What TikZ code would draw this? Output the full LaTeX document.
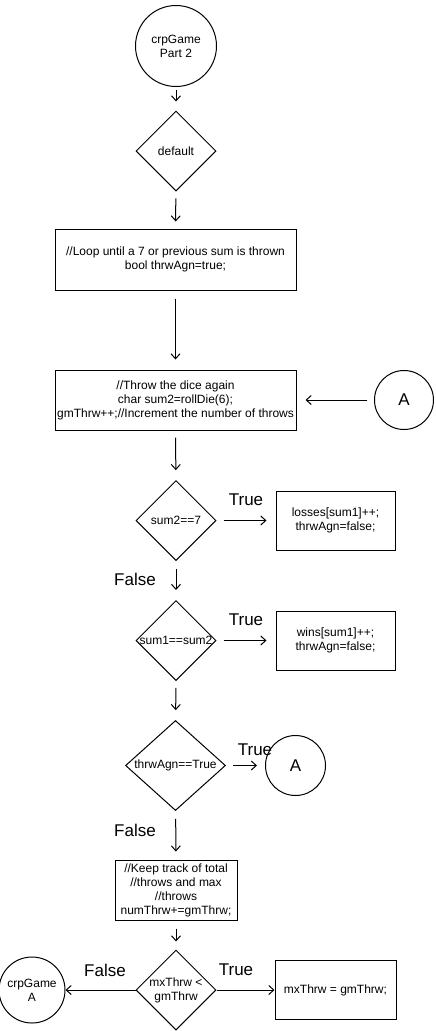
\documentclass[tikz,border=0pt]{standalone}
\usepackage{fontspec}
\setmainfont{Liberation Sans}
\usetikzlibrary{shapes.geometric,arrows.meta}
\begin{document}
\begin{tikzpicture}[x=1pt,y=-1pt,
  base/.style={draw=black, line width=1pt, inner sep=0pt, font=\fontsize{12}{14}\selectfont, align=center},
  box/.style={base, rectangle},
  circ/.style={base, circle},
  dia/.style={base, diamond},
  txt/.style={inner sep=0pt, font=\fontsize{12}{14}\selectfont, align=center},
  lbl/.style={inner sep=0pt, font=\fontsize{17}{20}\selectfont},
  bigtxt/.style={inner sep=0pt, font=\fontsize{17}{20}\selectfont},
  arr/.style={draw=black, line width=1pt, -{Straight Barb[length=5pt,width=9pt]}}
]
\useasboundingbox (0,0) rectangle (436,1031);

% nodes
\node[circ, minimum size=81pt] (start) at (176,46) {crpGame\\Part 2};
\node[dia, minimum width=80pt, minimum height=80pt] (d0) at (176,151) {};
\node[txt] (d0t) at (d0) {default};
\node[box, minimum width=241pt, minimum height=61pt] (r1) at (175.5,259.5)
  {//Loop until a 7 or previous sum is thrown\\bool thrwAgn=true;};
\node[box, minimum width=241pt, minimum height=60pt] (r2) at (175.5,400)
  {//Throw the dice again\\char sum2=rollDie(6);\\gmThrw++;//Increment the number of throws};
\node[circ, minimum size=59pt] (A1) at (404,400) {};
\node[bigtxt] (A1t) at (A1) {A};

\node[dia, minimum width=80pt, minimum height=80pt] (d1) at (176,520.5) {};
\node[txt] (d1t) at (d1) {sum2==7};
\node[box, minimum width=119pt, minimum height=59pt] (loss) at (335.5,520.5)
  {losses[sum1]++;\\thrwAgn=false;};

\node[dia, minimum width=80pt, minimum height=80pt] (d2) at (176,640.5) {};
\node[txt] (d2t) at (d2) {sum1==sum2};
\node[box, minimum width=119pt, minimum height=59pt] (wins) at (335.5,640.5)
  {wins[sum1]++;\\thrwAgn=false;};

\node[dia, minimum width=100pt, minimum height=90pt] (d3) at (175.5,765.5) {};
\node[txt] (d3t) at (d3) {thrwAgn==True};
\node[circ, minimum size=60pt] (A2) at (295.5,765.5) {};
\node[bigtxt] (A2t) at (A2) {A};

\node[box, minimum width=122pt, minimum height=60pt] (keep) at (176,890)
  {//Keep track of total\\//throws and max\\//throws\\numThrw+=gmThrw;};

\node[dia, minimum width=80pt, minimum height=80pt] (d4) at (176,990) {};
\node[txt] (d4t) at (d4) {mxThrw <\\gmThrw};
\node[circ, minimum size=66pt] (endc) at (32,990) {crpGame\\A};
\node[box, minimum width=121pt, minimum height=59pt] (mx) at (335.5,990)
  {mxThrw = gmThrw;};

% labels
\node[lbl] (t1) at (246,500) {True};
\node[lbl] (f1) at (135,579) {False};
\node[lbl] (t2) at (246,620) {True};
\node[lbl] (t3) at (255,750) {True};
\node[lbl] (f3) at (135,830) {False};
\node[lbl] (f4) at (105,970) {False};
\node[lbl] (t4) at (236,970) {True};

% connectors
\draw[arr, shorten <=3pt, shorten >=9pt] (start) -- (d0);
\draw[arr, shorten <=7pt, shorten >=7pt] (d0) -- (r1);
\draw[arr, shorten <=8pt, shorten >=10pt] (r1) -- (r2);
\draw[arr, shorten <=7pt, shorten >=9pt] (A1) -- (r2);
\draw[arr, shorten <=7pt, shorten >=10pt] (r2) -- (d1);
\draw[arr, shorten <=7pt, shorten >=9pt] (d1.east) -- (loss.west);
\draw[arr, shorten <=8pt, shorten >=10pt] (d1) -- (d2);
\draw[arr, shorten <=7pt, shorten >=9pt] (d2.east) -- (wins.west);
\draw[arr, shorten <=7pt, shorten >=10pt] (d2) -- (d3);
\draw[arr, shorten <=7pt, shorten >=8pt] (d3.east) -- (A2.west);
\draw[arr, shorten <=8pt, shorten >=8pt] (d3) -- (keep);
\draw[arr, shorten <=8pt, shorten >=8pt] (keep) -- (d4);
\draw[arr] (d4.west) -- (endc.east);
\draw[arr] (d4.east) -- (mx.west);
\end{tikzpicture}
\end{document}
